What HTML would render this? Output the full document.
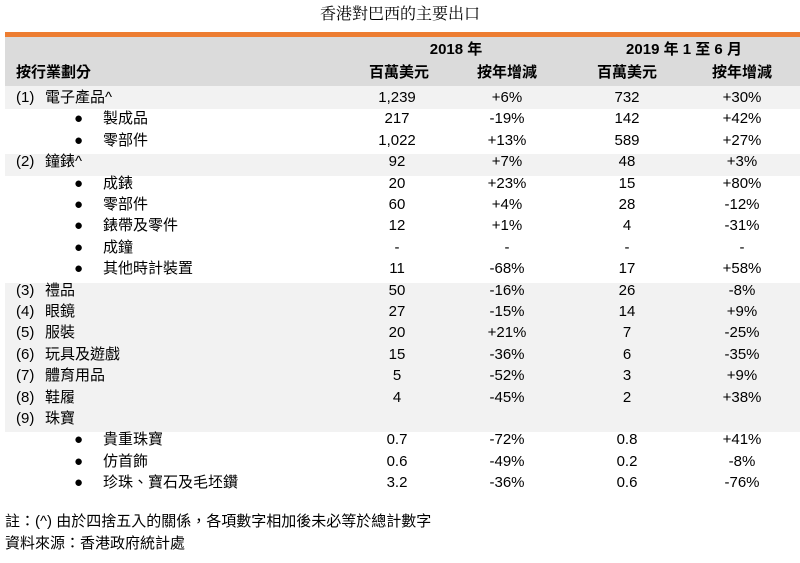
<!DOCTYPE html>
<html><head><meta charset="utf-8"><style>
body{margin:0;width:800px;height:563px;background:#fff;position:relative;overflow:hidden;font-family:"Liberation Sans","Noto Sans CJK TC",sans-serif;font-size:15px;color:#000}
.a{position:absolute;white-space:nowrap;line-height:1}
.c{transform:translateX(-50%)}
.bg{position:absolute;left:5px;width:795px}
</style></head><body>
<div class="a c" style="left:400px;top:7px;font-size:16px;font-family:'Liberation Serif','Noto Serif CJK SC',serif">香港對巴西的主要出口</div>
<div class="bg" style="top:32px;height:5px;background:#ed7d31"></div>
<div class="bg" style="top:37px;height:49px;background:#dbdbdb"></div>
<div class="bg" style="top:86px;height:23px;background:#f2f2f2"></div>
<div class="bg" style="top:154px;height:22px;background:#f2f2f2"></div>
<div class="bg" style="top:283px;height:149px;background:#f2f2f2"></div>
<div class="a c" style="left:456px;top:42px;font-weight:bold">2018 年</div>
<div class="a c" style="left:684px;top:42px;font-weight:bold">2019 年 1 至 6 月</div>
<div class="a" style="left:16px;top:65px;font-weight:bold">按行業劃分</div>
<div class="a c" style="left:399px;top:65px;font-weight:bold">百萬美元</div>
<div class="a c" style="left:507px;top:65px;font-weight:bold">按年增減</div>
<div class="a c" style="left:627px;top:65px;font-weight:bold">百萬美元</div>
<div class="a c" style="left:742px;top:65px;font-weight:bold">按年增減</div>
<div id="rows"></div>
<div class="a" style="left:5px;top:514px">註：(^) 由於四捨五入的關係，各項數字相加後未必等於總計數字</div>
<div class="a" style="left:5px;top:536px">資料來源：香港政府統計處</div>
<script>
const nums=["(1)","","","(2)","","","","","","(3)","(4)","(5)","(6)","(7)","(8)","(9)","","",""];
const labels=["電子產品^","製成品","零部件","鐘錶^","成錶","零部件","錶帶及零件","成鐘","其他時計裝置","禮品","眼鏡","服裝","玩具及遊戲","體育用品","鞋履","珠寶","貴重珠寶","仿首飾","珍珠、寶石及毛坯鑽"];
const v2018=["1,239","217","1,022","92","20","60","12","-","11","50","27","20","15","5","4","","0.7","0.6","3.2"];
const c2018=["+6%","-19%","+13%","+7%","+23%","+4%","+1%","-","-68%","-16%","-15%","+21%","-36%","-52%","-45%","","-72%","-49%","-36%"];
const v2019=["732","142","589","48","15","28","4","-","17","26","14","7","6","3","2","","0.8","0.2","0.6"];
const c2019=["+30%","+42%","+27%","+3%","+80%","-12%","-31%","-","+58%","-8%","+9%","-25%","-35%","+9%","+38%","","+41%","-8%","-76%"];
const host=document.getElementById('rows');
function put(txt,x,y,center,name){
  const d=document.createElement('div');
  d.className='a'+(center?' c':'');
  d.style.left=x+'px';d.style.top=y+'px';d.textContent=txt;
  
  
  host.appendChild(d);
}
labels.forEach((lab,i)=>{
  const y=90+i*21.4;
  if(nums[i]){put(nums[i],16,y,false,'row-number');put(lab,45,y,false,'row-label');}
  else{put('●',74,y,false,'bullet');put(lab,103,y,false,'row-label');}
  put(v2018[i],397,y,true,'value-2018');
  put(c2018[i],507,y,true,'change-2018');
  put(v2019[i],627,y,true,'value-2019');
  put(c2019[i],742,y,true,'change-2019');
});
</script>
</body></html>
